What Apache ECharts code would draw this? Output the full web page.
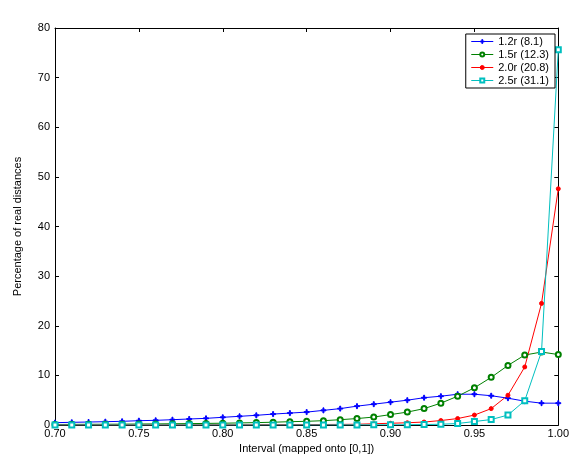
<!DOCTYPE html>
<html><head><meta charset="utf-8">
<script src="https://cdn.jsdelivr.net/npm/echarts@6/dist/echarts.min.js"></script>
<style>html,body{margin:0;padding:0;background:#fff}#c{width:572px;height:462px}</style>
</head><body><div id="c"></div>
<script>
const xs = [0.70,0.71,0.72,0.73,0.74,0.75,0.76,0.77,0.78,0.79,0.80,0.81,0.82,0.83,0.84,0.85,0.86,0.87,0.88,0.89,0.90,0.91,0.92,0.93,0.94,0.95,0.96,0.97,0.98,0.99,1.00];
const s12 = [0.47,0.54,0.60,0.67,0.74,0.87,0.94,1.07,1.21,1.34,1.55,1.75,1.95,2.2,2.4,2.6,2.95,3.3,3.8,4.2,4.6,5.0,5.5,5.8,6.2,6.2,5.9,5.4,4.8,4.4,4.4];
const s15 = [0.10,0.12,0.14,0.15,0.17,0.20,0.22,0.25,0.28,0.32,0.36,0.42,0.48,0.56,0.67,0.74,0.87,1.07,1.3,1.6,2.1,2.6,3.3,4.4,5.8,7.5,9.6,12.0,14.1,14.7,14.2];
const s20 = [0.02,0.02,0.02,0.02,0.02,0.03,0.03,0.03,0.04,0.04,0.05,0.05,0.06,0.07,0.08,0.09,0.1,0.12,0.15,0.25,0.35,0.45,0.6,0.9,1.3,2.0,3.3,6.0,11.7,24.5,47.6];
const s25 = [0.0,0.0,0.0,0.0,0.0,0.0,0.0,0.0,0.0,0.0,0.0,0.0,0.0,0.0,0.0,0.01,0.01,0.02,0.02,0.03,0.04,0.05,0.1,0.15,0.3,0.7,1.1,2.0,4.9,14.8,75.6];
const names = ['1.2r (8.1)','1.5r (12.3)','2.0r (20.8)','2.5r (31.1)'];
const xTicks = [0.70,0.75,0.80,0.85,0.90,0.95,1.00];
const yTicks = [0,10,20,30,40,50,60,70,80];

const font = 'Liberation Sans, Arial, sans-serif';
const pair = a => xs.map((x,i)=>[x,a[i]]);
const plus = 'path://M4,0h2v4h4v2h-4v4h-2v-4h-4v-2h4z';
function ser(name, data, color, symbol, size){
  return {name, type:'line', data:pair(data), symbol, symbolSize:size,
    lineStyle:{color, width:1}, itemStyle:{color, borderColor:color, borderWidth:1},
    emphasis:{disabled:true}, animation:false, z:3};
}
const chart = echarts.init(document.getElementById('c'));
const tickStyle = {show:true, inside:true, length:4, lineStyle:{color:'#000'}};
const baseX = {type:'value', min:0.70, max:1.00, interval:0.05,
  axisLine:{show:true, onZero:false, lineStyle:{color:'#000', width:1}}, splitLine:{show:false}};
const baseY = {type:'value', min:0, max:80, interval:10,
  axisLine:{show:true, onZero:false, lineStyle:{color:'#000', width:1}}, splitLine:{show:false}};
chart.setOption({
  animation:false,
  backgroundColor:'#fff',
  grid:{left:55, right:12, top:28, bottom:37, containLabel:false},
  legend:{
    data:names, orient:'vertical', right:17, top:34,
    backgroundColor:'#fff', borderColor:'#000', borderWidth:1, borderRadius:0,
    padding:[1,6,1,5], itemGap:0, itemWidth:22, itemHeight:5,
    lineStyle:{width:1}, itemStyle:{borderWidth:1},
    textStyle:{fontFamily:font, fontSize:11, color:'#000', padding:[0,0,0,0], lineHeight:13}
  },
  xAxis:[
    Object.assign({}, baseX, {position:'bottom', axisTick:tickStyle,
      name:'Interval (mapped onto [0,1])', nameLocation:'middle', nameGap:14,
      nameTextStyle:{fontFamily:font, fontSize:11, color:'#000'},
      axisLabel:{fontFamily:font, fontSize:11, color:'#000', margin:3,
        formatter:v=>v.toFixed(2)}}),
    Object.assign({}, baseX, {position:'top', axisTick:tickStyle, axisLabel:{show:false}})
  ],
  yAxis:[
    Object.assign({}, baseY, {position:'left', axisTick:tickStyle,
      name:'Percentage of real distances', nameLocation:'middle', nameGap:32,
      nameTextStyle:{fontFamily:font, fontSize:11, color:'#000'},
      axisLabel:{fontFamily:font, fontSize:11, color:'#000', margin:5}}),
    Object.assign({}, baseY, {position:'right', axisTick:tickStyle, axisLabel:{show:false}})
  ],
  series:[
    ser(names[0], s12, '#0000ff', plus, 5),
    ser(names[1], s15, '#008000', 'emptyCircle', 5),
    ser(names[2], s20, '#ff0000', 'circle', 4),
    ser(names[3], s25, '#00bfbf', 'emptyRect', 5)
  ]
});
</script></body></html>
